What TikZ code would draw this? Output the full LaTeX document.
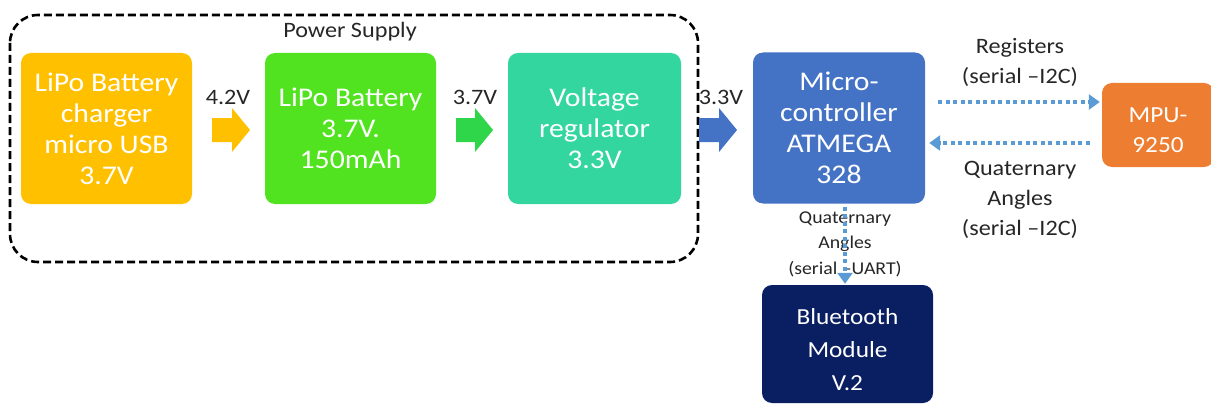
\documentclass[tikz,border=0pt]{standalone}
\usepackage{fontspec}
\setmainfont{Carlito}[FakeStretch=1.1]
\usetikzlibrary{arrows.meta}
\definecolor{cOrange}{HTML}{FFC000}
\definecolor{cGreen}{HTML}{52E320}
\definecolor{cTeal}{HTML}{34D6A0}
\definecolor{cBlue}{HTML}{4472C4}
\definecolor{cMPU}{HTML}{ED7D31}
\definecolor{cNavy}{HTML}{0A1F62}
\definecolor{cArrGreen}{HTML}{30D64A}
\definecolor{cDot}{HTML}{5B9BD5}
\definecolor{cText}{HTML}{262626}
\begin{document}
\begin{tikzpicture}[x=1pt,y=-1pt,
  box/.style={rectangle, rounded corners=10pt, inner sep=0pt, align=center, text=white,
    font=\fontsize{27}{31}\selectfont},
  boxtext/.style={inner sep=0pt, align=center, text=white},
  lbl/.style={inner sep=0pt, align=center, text=cText, font=\fontsize{22}{30}\selectfont},
  vlbl/.style={inner sep=0pt, align=center, text=cText, font=\fontsize{22}{26}\selectfont},
  smlbl/.style={inner sep=0pt, align=center, text=cText, font=\fontsize{18}{25.5}\selectfont},
  dotarr/.style={draw=cDot, line width=4pt, dash pattern=on 4pt off 3.5pt,
    -{Triangle[length=11pt,width=15pt]}},
  psbox/.style={draw=black, line width=2.6pt, dash pattern=on 8pt off 4pt, rounded corners=28pt}
]
\useasboundingbox (0,0) rectangle (1211,404);
% power supply frame
\draw[psbox] (10,15) rectangle (698,262);
\node[vlbl] (ps) at (350,32) {Power Supply};
% boxes
\node[box, fill=cOrange, minimum width=171pt, minimum height=151pt] (chg) at (106.5,128.5)
  {LiPo Battery\\charger\\micro USB\\3.7V};
\node[box, fill=cGreen, minimum width=171pt, minimum height=151pt] (bat) at (350.5,128.5)
  {LiPo Battery\\3.7V.\\150mAh};
\node[box, fill=cTeal, minimum width=173pt, minimum height=151pt] (reg) at (594.5,128.5)
  {Voltage\\regulator\\3.3V};
\node[box, fill=cBlue, minimum width=172pt, minimum height=151pt] (mcu) at (839,128)
  {Micro-\\controller\\ATMEGA\\328};
\node[box, fill=cMPU, minimum width=112pt, minimum height=84pt] (mpu) at (1158,125) {};
\node[boxtext, font=\fontsize{23}{30}\selectfont] (mputxt) at ([yshift=-5pt]mpu.center) {MPU-\\9250};
\node[box, fill=cNavy, minimum width=171pt, minimum height=118pt] (bt) at (847.5,344) {};
\node[boxtext, font=\fontsize{23}{33}\selectfont] (bttxt) at ([yshift=-6pt]bt.center) {Bluetooth\\Module\\V.2};
% block arrows
\fill[cOrange] (212,118) -- (232,118) -- (232,108) -- (250,130) -- (232,152) -- (232,142) -- (212,142) -- cycle;
\fill[cArrGreen] (456,118) -- (475,118) -- (475,108) -- (493,130) -- (475,152) -- (475,142) -- (456,142) -- cycle;
\fill[cBlue] (699,118) -- (719,118) -- (719,108) -- (737,130) -- (719,152) -- (719,142) -- (699,142) -- cycle;
\node[vlbl] (v42) at (228,97) {4.2V};
\node[vlbl] (v37) at (475,97) {3.7V};
\node[vlbl] (v33) at (721,97) {3.3V};
% labels right
\node[lbl] (reglbl) at (1020,62) {Registers\\(serial –I2C)};
\node[lbl] (qlbl) at (1020,200) {Quaternary\\Angles\\(serial –I2C)};
\node[smlbl] (ulbl) at (845,244) {Quaternary\\Angles\\(serial –UART)};
% dotted connectors
\draw[dotarr] ([xshift=13pt,yshift=26pt]mcu.east) -- ([xshift=-2pt,yshift=23pt]mpu.west);
\draw[dotarr] ([xshift=-12pt,yshift=-18pt]mpu.west) -- ([xshift=4pt,yshift=-15pt]mcu.east);
\draw[dotarr] ([xshift=6pt,yshift=-3pt]mcu.south) -- ([xshift=-2.5pt,yshift=1pt]bt.north);
\end{tikzpicture}
\end{document}
